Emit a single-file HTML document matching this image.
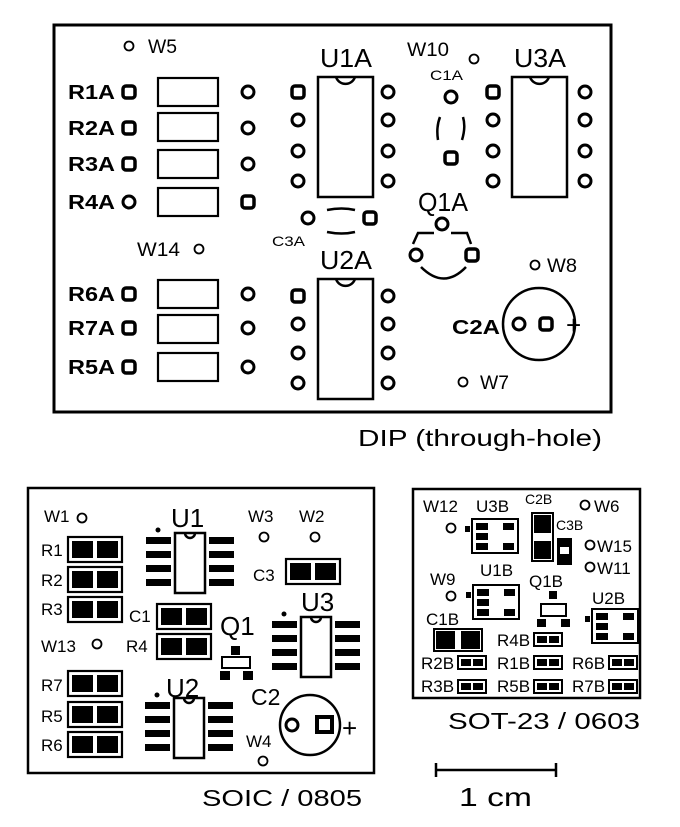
<!DOCTYPE html>
<html><head><meta charset="utf-8"><style>
html,body{margin:0;padding:0;background:#fff;}
svg{display:block}
text{font-family:"Liberation Sans",sans-serif;fill:#000}
.b{font-weight:bold;font-size:20px}
.t{font-size:26px}
.s{font-size:14px}
.m{font-size:17px}
.w{font-size:19px}
</style></head><body>
<svg width="680" height="827" viewBox="0 0 680 827" xmlns="http://www.w3.org/2000/svg">
<defs>
<g id="rp"><circle r="6" fill="#fff" stroke="#000" stroke-width="3"/></g>
<g id="sp"><rect x="-6" y="-6" width="12" height="12" rx="3" fill="#fff" stroke="#000" stroke-width="3.5"/></g>
<g id="wc"><circle r="4.5" fill="#fff" stroke="#000" stroke-width="1.8"/></g>
<g id="r08"><rect x="0" y="0" width="54" height="25" fill="#fff" stroke="#000" stroke-width="2.2"/><rect x="4" y="4" width="21" height="17"/><rect x="29" y="4" width="21" height="17"/></g>
<g id="r06"><rect x="0" y="0" width="28" height="13" fill="#fff" stroke="#000" stroke-width="2"/><rect x="3" y="3" width="10" height="7"/><rect x="15" y="3" width="10" height="7"/></g>
<g id="soic"><rect x="0" y="0" width="30" height="60" fill="#fff" stroke="#000" stroke-width="2.5"/><path d="M10,0 A5,5 0 0 0 20,0" fill="none" stroke="#000" stroke-width="2.5"/>
<rect x="-29" y="4" width="25" height="7"/><rect x="-29" y="18" width="25" height="7"/><rect x="-29" y="32" width="25" height="7"/><rect x="-29" y="46" width="25" height="7"/>
<rect x="34" y="4" width="25" height="7"/><rect x="34" y="18" width="25" height="7"/><rect x="34" y="32" width="25" height="7"/><rect x="34" y="46" width="25" height="7"/>
<circle cx="-17" cy="-3" r="2.5"/></g>
<g id="sot"><rect x="0" y="0" width="46" height="34" fill="#fff" stroke="#000" stroke-width="2"/>
<rect x="4" y="4" width="12" height="7"/><rect x="4" y="14" width="12" height="7"/><rect x="4" y="24" width="12" height="7"/>
<rect x="31" y="4" width="11" height="7"/><rect x="31" y="24" width="11" height="7"/><rect x="-7" y="7" width="5" height="6"/></g>
<g id="dip"><rect x="0" y="0" width="55" height="120" fill="#fff" stroke="#000" stroke-width="2.5"/><path d="M18,0 A10,10 0 0 0 37,0" fill="none" stroke="#000" stroke-width="2.5"/></g>
</defs>

<!-- DIP board -->
<rect x="54" y="25" width="557" height="387" fill="none" stroke="#000" stroke-width="3"/>
<use href="#wc" x="129" y="46"/><text class="w" x="148" y="53" textLength="29" lengthAdjust="spacingAndGlyphs">W5</text>
<text class="b" x="68" y="99" textLength="47" lengthAdjust="spacingAndGlyphs">R1A</text><text class="b" x="68" y="135" textLength="47" lengthAdjust="spacingAndGlyphs">R2A</text><text class="b" x="68" y="171" textLength="47" lengthAdjust="spacingAndGlyphs">R3A</text><text class="b" x="68" y="209" textLength="47" lengthAdjust="spacingAndGlyphs">R4A</text>
<use href="#sp" x="129" y="92"/><use href="#sp" x="129" y="128"/><use href="#sp" x="129" y="164"/><use href="#rp" x="129" y="202"/>
<g fill="#fff" stroke="#000" stroke-width="2.2">
<rect x="158" y="78" width="60" height="28"/><rect x="158" y="113" width="60" height="28"/><rect x="158" y="150" width="60" height="28"/><rect x="158" y="188" width="60" height="28"/>
<rect x="158" y="280" width="60" height="28"/><rect x="158" y="315" width="60" height="28"/><rect x="158" y="353" width="60" height="28"/>
</g>
<use href="#rp" x="248" y="92"/><use href="#rp" x="248" y="128"/><use href="#rp" x="248" y="164"/><use href="#sp" x="248" y="202"/>
<text class="t" x="320" y="67" textLength="52" lengthAdjust="spacingAndGlyphs">U1A</text>
<use href="#dip" x="318" y="77"/>
<use href="#sp" x="298" y="92"/><use href="#rp" x="298" y="120"/><use href="#rp" x="298" y="151"/><use href="#rp" x="298" y="181"/>
<use href="#rp" x="388" y="92"/><use href="#rp" x="388" y="120"/><use href="#rp" x="388" y="151"/><use href="#rp" x="388" y="181"/>
<text class="w" x="407" y="56" textLength="42" lengthAdjust="spacingAndGlyphs">W10</text><use href="#wc" x="474" y="59"/>
<text class="s" x="430" y="80" textLength="33" lengthAdjust="spacingAndGlyphs">C1A</text>
<use href="#rp" x="451" y="97"/><use href="#sp" x="451" y="158"/>
<path d="M440,117 Q436,127 438,140 M463,117 Q466,127 462,140" fill="none" stroke="#000" stroke-width="2.5"/>
<text class="t" x="514" y="67" textLength="52" lengthAdjust="spacingAndGlyphs">U3A</text>
<use href="#dip" x="512" y="77"/>
<use href="#sp" x="493" y="92"/><use href="#rp" x="493" y="120"/><use href="#rp" x="493" y="151"/><use href="#rp" x="493" y="181"/>
<use href="#rp" x="585" y="92"/><use href="#rp" x="585" y="120"/><use href="#rp" x="585" y="151"/><use href="#rp" x="585" y="181"/>
<use href="#rp" x="308" y="218"/><use href="#sp" x="370" y="218"/>
<path d="M327,210 Q342,207 355,210 M327,232 Q342,235 355,232" fill="none" stroke="#000" stroke-width="2.5"/>
<text class="s" x="272" y="246" textLength="33" lengthAdjust="spacingAndGlyphs">C3A</text>
<text class="t" x="418" y="211" textLength="50" lengthAdjust="spacingAndGlyphs">Q1A</text>
<use href="#rp" x="442" y="224"/><use href="#rp" x="416" y="255"/><use href="#sp" x="472" y="255"/>
<path d="M413,244 L418,233 L434,233 M451,233 L467,233 L471,244 M421,267 Q444,290 466,267" fill="none" stroke="#000" stroke-width="2.5"/>
<text class="w" x="137" y="256" textLength="43" lengthAdjust="spacingAndGlyphs">W14</text><use href="#wc" x="199" y="249"/>
<text class="t" x="320" y="269" textLength="52" lengthAdjust="spacingAndGlyphs">U2A</text>
<use href="#dip" x="318" y="279"/>
<use href="#sp" x="298" y="296"/><use href="#rp" x="298" y="324"/><use href="#rp" x="298" y="353"/><use href="#rp" x="298" y="383"/>
<use href="#rp" x="388" y="296"/><use href="#rp" x="388" y="324"/><use href="#rp" x="388" y="353"/><use href="#rp" x="388" y="383"/>
<text class="b" x="68" y="301" textLength="47" lengthAdjust="spacingAndGlyphs">R6A</text><text class="b" x="68" y="335" textLength="47" lengthAdjust="spacingAndGlyphs">R7A</text><text class="b" x="68" y="374" textLength="47" lengthAdjust="spacingAndGlyphs">R5A</text>
<use href="#sp" x="129" y="294"/><use href="#sp" x="129" y="328"/><use href="#sp" x="129" y="367"/>
<use href="#rp" x="248" y="294"/><use href="#rp" x="248" y="328"/><use href="#rp" x="248" y="367"/>
<use href="#wc" x="535" y="265"/><text class="w" x="547" y="272" textLength="30" lengthAdjust="spacingAndGlyphs">W8</text>
<text class="b" x="452" y="334" textLength="48" lengthAdjust="spacingAndGlyphs">C2A</text>
<circle cx="539" cy="324" r="36" fill="none" stroke="#000" stroke-width="2.5"/>
<use href="#rp" x="519" y="324"/><use href="#sp" x="546" y="324"/>
<text x="566" y="334" style="font-size:26px">+</text>
<use href="#wc" x="463" y="382"/><text class="w" x="480" y="389" textLength="29" lengthAdjust="spacingAndGlyphs">W7</text>
<text x="358" y="446" style="font-size:23px" textLength="244" lengthAdjust="spacingAndGlyphs">DIP (through-hole)</text>

<!-- SOIC board -->
<rect x="28" y="488" width="346" height="285" fill="none" stroke="#000" stroke-width="2.5"/>
<text class="m" x="44" y="522">W1</text><use href="#wc" x="82" y="518"/>
<text class="m" x="41" y="556">R1</text><use href="#r08" x="68" y="537"/>
<text class="m" x="41" y="586">R2</text><use href="#r08" x="68" y="567"/>
<text class="m" x="41" y="615">R3</text><use href="#r08" x="68" y="597"/>
<text class="m" x="41" y="652">W13</text><use href="#wc" x="97" y="644"/>
<text class="m" x="41" y="691">R7</text><use href="#r08" x="68" y="671"/>
<text class="m" x="41" y="722">R5</text><use href="#r08" x="68" y="702"/>
<text class="m" x="41" y="751">R6</text><use href="#r08" x="68" y="732"/>
<text x="171" y="527" style="font-size:26px">U1</text>
<use href="#soic" x="175" y="533"/>
<text class="m" x="248" y="522">W3</text><use href="#wc" x="264" y="537"/>
<text class="m" x="299" y="522">W2</text><use href="#wc" x="315" y="537"/>
<text class="m" x="253" y="581">C3</text><use href="#r08" x="286" y="559"/>
<text x="301" y="611" style="font-size:26px">U3</text>
<use href="#soic" x="301" y="617"/>
<text class="m" x="129" y="622">C1</text><use href="#r08" x="157" y="604"/>
<text class="m" x="126" y="652">R4</text><use href="#r08" x="157" y="634"/>
<text x="220" y="635" style="font-size:26px">Q1</text>
<rect x="231" y="646" width="9" height="9"/>
<rect x="222" y="657" width="28" height="11" fill="#fff" stroke="#000" stroke-width="2"/>
<rect x="220" y="671" width="10" height="9"/><rect x="243" y="671" width="10" height="9"/>
<text x="166" y="697" style="font-size:26px">U2</text>
<use href="#soic" x="174" y="698"/>
<text x="251" y="705" style="font-size:23px">C2</text>
<circle cx="310" cy="725" r="30" fill="none" stroke="#000" stroke-width="2.5"/>
<use href="#rp" x="292" y="725"/>
<rect x="317" y="717" width="15" height="15" fill="#fff" stroke="#000" stroke-width="4"/>
<text x="342" y="737" style="font-size:26px">+</text>
<text class="m" x="246" y="747">W4</text><use href="#wc" x="263" y="761"/>
<text x="202" y="806" style="font-size:23px" textLength="160" lengthAdjust="spacingAndGlyphs">SOIC / 0805</text>

<!-- SOT board -->
<rect x="413" y="489" width="227" height="209" fill="none" stroke="#000" stroke-width="2.5"/>
<text class="m" x="423" y="512">W12</text><use href="#wc" x="451" y="528"/>
<text class="m" x="476" y="512">U3B</text><use href="#sot" x="472" y="519"/>
<text class="s" x="525" y="504">C2B</text>
<rect x="532" y="513" width="21" height="48" fill="#fff" stroke="#000" stroke-width="2"/>
<rect x="534" y="515" width="17" height="18"/><rect x="534" y="541" width="17" height="18"/>
<text class="s" x="556" y="530">C3B</text>
<rect x="557" y="538" width="15" height="27"/><rect x="560" y="547" width="9" height="7" fill="#fff"/>
<use href="#wc" x="585" y="505"/><text class="m" x="594" y="512">W6</text>
<use href="#wc" x="590" y="545"/><text class="m" x="597" y="552">W15</text>
<use href="#wc" x="590" y="567"/><text class="m" x="597" y="574">W11</text>
<text class="m" x="430" y="585">W9</text><use href="#wc" x="451" y="596"/>
<text class="m" x="480" y="576">U1B</text><use href="#sot" x="473" y="585"/>
<text class="m" x="529" y="587">Q1B</text>
<rect x="549" y="591" width="8" height="8"/>
<rect x="541" y="604" width="25" height="12" fill="#fff" stroke="#000" stroke-width="2"/>
<rect x="537" y="619" width="9" height="8"/><rect x="561" y="619" width="9" height="8"/>
<text class="m" x="592" y="604">U2B</text><use href="#sot" x="592" y="609"/>
<text class="m" x="426" y="625">C1B</text>
<rect x="434" y="629" width="48" height="22" fill="#fff" stroke="#000" stroke-width="2"/>
<rect x="436" y="631" width="19" height="18"/><rect x="461" y="631" width="19" height="18"/>
<text class="m" x="497" y="646">R4B</text><use href="#r06" x="534" y="633"/>
<text class="m" x="421" y="669">R2B</text><use href="#r06" x="458" y="656"/>
<text class="m" x="497" y="669">R1B</text><use href="#r06" x="534" y="656"/>
<text class="m" x="572" y="669">R6B</text><use href="#r06" x="609" y="656"/>
<text class="m" x="421" y="692">R3B</text><use href="#r06" x="458" y="680"/>
<text class="m" x="497" y="692">R5B</text><use href="#r06" x="534" y="680"/>
<text class="m" x="572" y="692">R7B</text><use href="#r06" x="609" y="680"/>
<text x="448" y="729" style="font-size:23px" textLength="192" lengthAdjust="spacingAndGlyphs">SOT-23 / 0603</text>

<!-- scale -->
<path d="M436,770 H556 M436,763 V777 M556,763 V777" fill="none" stroke="#000" stroke-width="2.5"/>
<text x="459" y="806" style="font-size:26px" textLength="73" lengthAdjust="spacingAndGlyphs">1 cm</text>
</svg>
</body></html>
